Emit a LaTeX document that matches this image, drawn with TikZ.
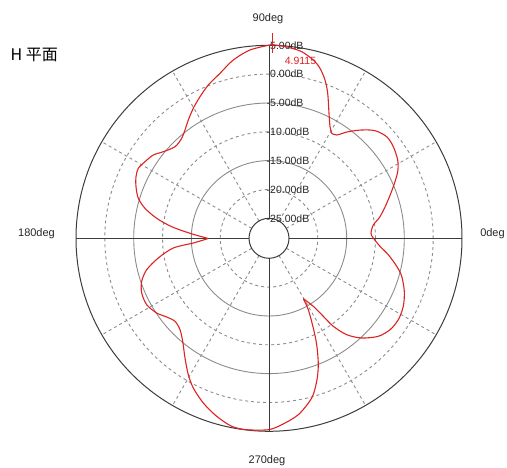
\documentclass[tikz,border=0pt]{standalone}
\usepackage{fontspec}
\setmainfont{Liberation Sans}
\newfontfamily\cjkfont{Noto Sans CJK JP}
\usepackage{tikz}
\usetikzlibrary{calc}
\definecolor{PatternRed}{HTML}{DD2222}
\definecolor{GridGray}{HTML}{8C8C8C}
\definecolor{AxisGray}{HTML}{3C3C3C}
\tikzset{
  ring/.style={draw=GridGray, line width=0.9pt},
  ringdash/.style={draw=GridGray, line width=0.9pt, dash pattern=on 3pt off 3pt},
  axisline/.style={draw=AxisGray, line width=1pt},
  dblabel/.style={anchor=west, inner sep=0pt, font=\fontsize{10.5}{12}\selectfont, text=black!85},
  deglabel/.style={inner sep=0pt, font=\fontsize{11}{13}\selectfont, text=black!85},
  pattern/.style={draw=PatternRed, line width=1.1pt, line join=round}
}
\begin{document}
\begin{tikzpicture}[x=1pt,y=-1pt]
        \useasboundingbox (0,0) rectangle (507,468);
        \coordinate (O) at (269,238.3);
        % rings
        \draw[ringdash] (O) circle (164.2pt);
        \draw[ring] (O) circle (135.3pt);
        \draw[ringdash] (O) circle (106.5pt);
        \draw[ring] (O) circle (77.7pt);
        \draw[ringdash] (O) circle (48.8pt);
        % radials
        \draw[ringdash] ($(O)+(30:20pt)$) -- ($(O)+(30:193pt)$);
        \draw[ringdash] ($(O)+(60:20pt)$) -- ($(O)+(60:193pt)$);
        \draw[ringdash] ($(O)+(120:20pt)$) -- ($(O)+(120:193pt)$);
        \draw[ringdash] ($(O)+(150:20pt)$) -- ($(O)+(150:193pt)$);
        \draw[ringdash] ($(O)+(210:20pt)$) -- ($(O)+(210:193pt)$);
        \draw[ringdash] ($(O)+(240:20pt)$) -- ($(O)+(240:193pt)$);
        \draw[ringdash] ($(O)+(300:20pt)$) -- ($(O)+(300:193pt)$);
        \draw[ringdash] ($(O)+(330:20pt)$) -- ($(O)+(330:193pt)$);
        % axes
        \draw[axisline] ($(O)+(0:20pt)$) -- ($(O)+(0:193pt)$);
        \draw[axisline] ($(O)+(90:20pt)$) -- ($(O)+(90:193pt)$);
        \draw[axisline] ($(O)+(180:20pt)$) -- ($(O)+(180:193pt)$);
        \draw[axisline] ($(O)+(270:20pt)$) -- ($(O)+(270:193pt)$);
        \draw[axisline] (O) circle (193pt);
        \draw[axisline] (O) circle (20pt);
        % dB scale
        \node[dblabel] (db5) at (270,45.3) {5.00dB};
        \node[dblabel] (db0) at (270,74.1) {0.00dB};
        \node[dblabel] (dbm5) at (266.5,103) {-5.00dB};
        \node[dblabel] (dbm10) at (266.5,131.8) {-10.00dB};
        \node[dblabel] (dbm15) at (266.5,160.6) {-15.00dB};
        \node[dblabel] (dbm20) at (266.5,189.5) {-20.00dB};
        \node[dblabel] (dbm25) at (266.5,218.3) {-25.00dB};
        % angles
        \node[deglabel] (deg90) at (268,18.5) {90deg};
        \node[deglabel] (deg270) at (267,460.5) {270deg};
        \node[deglabel] (deg180) at (36.5,233.5) {180deg};
        \node[deglabel] (deg0) at (492.5,233.5) {0deg};
        \node[anchor=base west, inner sep=0pt, font=\cjkfont\fontsize{16}{18}\selectfont] (plane) at (10.5,61) {H 平面};
        % pattern
        \draw[pattern] plot[smooth, tension=0.5] coordinates {(270,45) (250,50) (233.3,60) (220,73.3) (208.3,85) (200,96.7) (193.3,108.3) (188.3,120) (185,130) (181.7,138.3) (175,146.7) (163.3,151.7) (153.3,155) (145,161.7) (138.3,168.3) (136,176.7) (136,186.7) (138.3,198.3) (145,208.3) (156.7,218.3) (171.7,226.7) (190,233.3) (208.3,238.5)}
            plot[smooth, tension=0.5] coordinates {(208.3,238.5) (193.3,243) (173.3,248) (158.3,258) (146.7,269.7) (141.7,281.3) (141.7,293) (146.7,304.7) (156.7,313) (166.7,317) (175,321.3) (180,329.7) (182.7,341.3) (185,358) (188.3,374.7) (193.3,388) (203.3,403) (216.7,416.3) (231.7,426.3) (246.7,429.7) (268.3,429.7) (281.7,424.7) (298.3,414.7) (311.7,398) (316.7,381.3) (318.3,364.7) (316.7,344.7) (313.3,328) (308.3,309.7) (303.3,298.7)}
            plot[smooth, tension=0.5] coordinates {(303.3,298.7) (313.3,306.3) (323.3,316.3) (333.3,326.3) (346.7,334.7) (361.7,338) (378.3,336.3) (390,329.7) (398.3,319.7) (403.3,306.3) (404.3,291.3) (401.7,276.3) (396.7,266.3) (388.3,254.7) (380,246.3) (373.3,238) (371,233.3) (373.3,225) (380,216.7) (386.7,203.3) (393.3,186.7) (397.7,171.7) (397.7,160) (393.3,146.7) (386.7,136.7) (375,130.7) (361.7,130) (348.3,131.7) (336.7,135) (331.7,133.3)}
            plot[smooth, tension=0.5] coordinates {(331.7,133.3) (330,126.7) (329,113.3) (327.7,93.3) (325,80) (320,68.3) (313.3,60) (301.7,51.7) (288.3,47.3) (275,45) (270,45)};
        % peak marker
        \draw[draw=PatternRed, line width=1pt] (272.5,33) -- (272.5,53);
        \node[inner sep=0pt, font=\fontsize{10.5}{12}\selectfont, text=PatternRed] (peak) at (300.5,61.3) {4.9115};
    \end{tikzpicture}
\end{document}
